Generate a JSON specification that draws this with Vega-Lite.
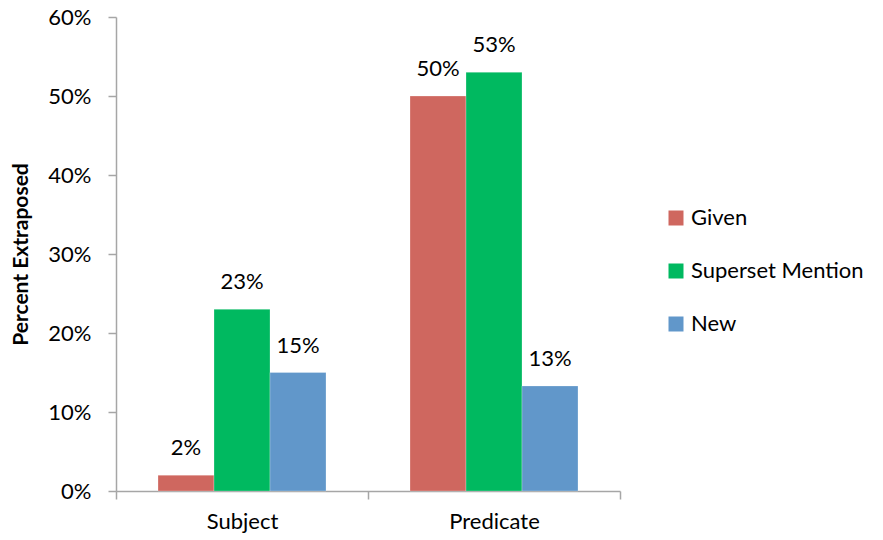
{
  "$schema": "https://vega.github.io/schema/vega-lite/v6.json",
  "width": 504,
  "height": 474,
  "autosize": "none",
  "padding": {"left": 116, "top": 17, "right": 263, "bottom": 49},
  "background": "white",
  "config": {
    "font": "Lato",
    "view": {"stroke": null},
    "axis": {"labelFont": "Lato", "titleFont": "Lato", "labelColor": "black", "titleColor": "black", "domainColor": "#A6A6A6", "tickColor": "#A6A6A6", "grid": false}
  },
  "data": {
    "values": [
      {"Category": "Subject", "Type": "Given", "value": 0.02},
      {"Category": "Subject", "Type": "Superset Mention", "value": 0.23},
      {"Category": "Subject", "Type": "New", "value": 0.15},
      {"Category": "Predicate", "Type": "Given", "value": 0.50},
      {"Category": "Predicate", "Type": "Superset Mention", "value": 0.53},
      {"Category": "Predicate", "Type": "New", "value": 0.133}
    ]
  },
  "encoding": {
    "x": {
      "field": "Category", "type": "nominal", "sort": ["Subject", "Predicate"],
      "scale": {"paddingInner": 0, "paddingOuter": 0},
      "axis": {"title": null, "labelAngle": 0, "labelFontSize": 22, "tickBand": "extent", "tickSize": 8, "labelPadding": 12, "domainWidth": 1.5, "tickWidth": 1.5}
    },
    "xOffset": {
      "field": "Type", "type": "nominal", "sort": ["Given", "Superset Mention", "New"],
      "scale": {"paddingInner": 0, "paddingOuter": 0.75}
    },
    "y": {
      "field": "value", "type": "quantitative",
      "scale": {"domain": [0, 0.6], "nice": false},
      "axis": {"format": ".0%", "values": [0, 0.1, 0.2, 0.3, 0.4, 0.5, 0.6], "title": "Percent Extraposed", "titleFontSize": 21, "titleFontWeight": "bold", "labelFontSize": 22, "tickSize": 8, "labelPadding": 17, "titlePadding": 16, "domainWidth": 1.5, "tickWidth": 1.5}
    }
  },
  "layer": [
    {
      "mark": {"type": "bar", "stroke": "white", "strokeWidth": 0.5, "strokeOpacity": 0.5},
      "encoding": {
        "color": {
          "field": "Type", "type": "nominal",
          "scale": {"domain": ["Given", "Superset Mention", "New"], "range": ["#CF675F", "#00B960", "#6197CA"]},
          "legend": {"title": null, "orient": "none", "legendX": 549, "legendY": 190, "symbolType": "square", "symbolSize": 225, "symbolStrokeWidth": 0, "labelFontSize": 22, "labelFont": "Lato", "labelColor": "black", "labelLimit": 400, "rowPadding": 31, "labelOffset": 4}
        }
      }
    },
    {
      "mark": {"type": "text", "baseline": "alphabetic", "dy": -20, "fontSize": 22, "font": "Lato", "color": "black"},
      "encoding": {"text": {"field": "value", "type": "quantitative", "format": ".0%"}}
    }
  ]
}
